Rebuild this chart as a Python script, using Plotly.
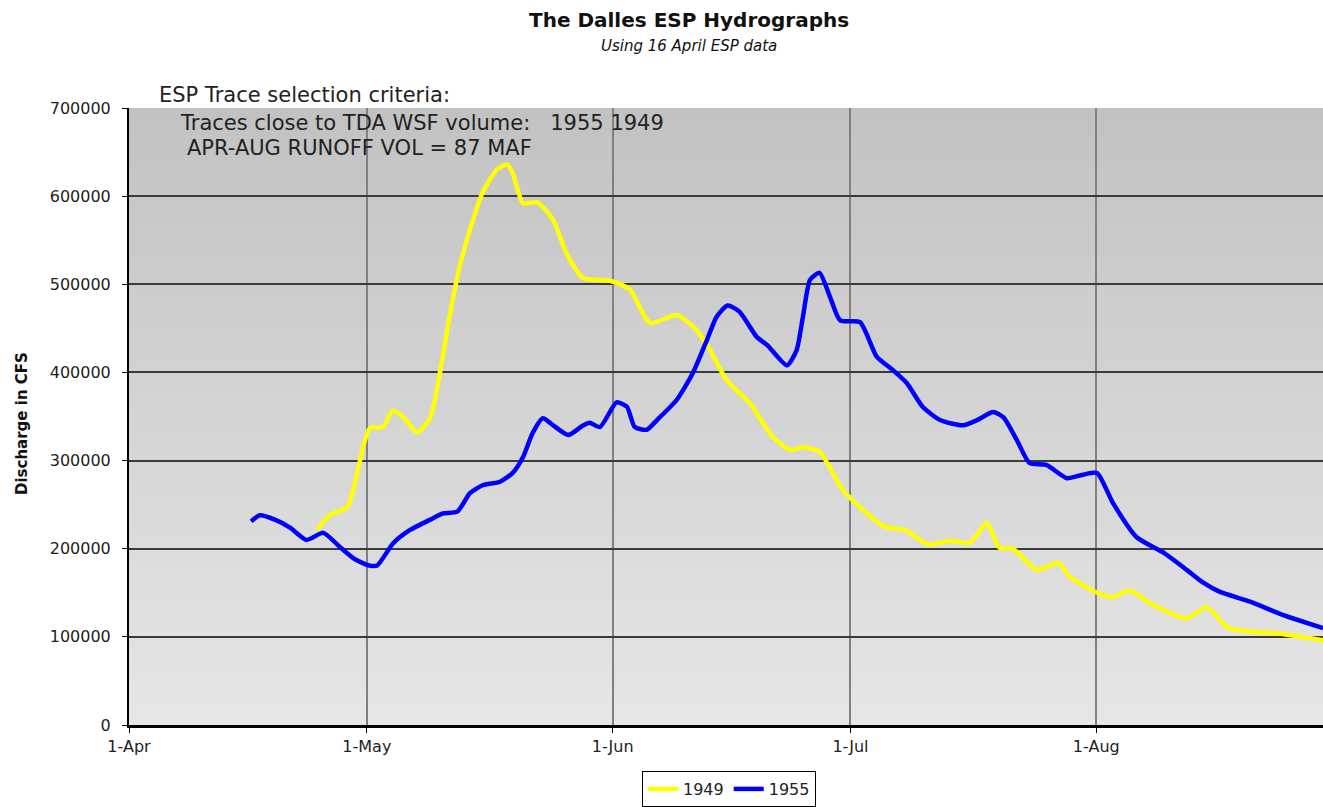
"""The Dalles ESP hydrographs (1949 / 1955 traces)."""

import base64
import struct
import zlib

import pandas as pd
import plotly.graph_objects as go

# days after 1 April, discharge in CFS
DAYS_1955 = [15.4, 16.5, 18.4, 20.3, 22.4, 24.5, 26.6, 28.5, 30.3, 31.3, 33.3, 35.4,
             38.0, 39.6, 41.4, 43.0, 44.6, 46.8, 48.4, 49.7, 50.9, 52.2, 53.5, 55.4,
             57.3, 58.1, 59.4, 61.5, 62.8, 63.8, 65.3, 66.6, 69.1, 71.1, 72.9, 74.1,
             75.5, 77.0, 79.2, 80.5, 83.0, 84.2, 85.0, 85.9, 87.1, 88.4, 89.7, 92.2,
             94.3, 96.3, 98.1, 100.1, 102.3, 105.2, 107.0, 109.0, 110.3, 112.0, 113.6,
             115.7, 118.3, 120.3, 122.1, 124.1, 127.1, 130.4, 133.4, 135.4, 137.6,
             141.4, 145.5, 150.6]
FLOW_1955 = [231000, 238000, 233000, 224000, 210000, 218000, 202000, 188000, 181000,
             181000, 206000, 221000, 233000, 240000, 242000, 263000, 272000, 276000,
             286000, 304000, 331000, 348000, 340000, 329000, 340000, 343000, 338000,
             366000, 361000, 338000, 335000, 346000, 369000, 399000, 437000, 463000,
             476000, 469000, 440000, 431000, 408000, 425000, 463000, 505000, 513000,
             486000, 459000, 457000, 418000, 403000, 388000, 361000, 346000, 340000,
             346000, 355000, 349000, 323000, 297000, 295000, 280000, 284000, 286000,
             252000, 213000, 196000, 176000, 162000, 151000, 140000, 125000, 110000]

DAYS_1949 = [23.7, 25.3, 27.5, 28.8, 29.5, 30.4, 32.0, 33.3, 34.6, 36.4, 38.0, 39.2,
             40.5, 41.7, 43.0, 44.6, 46.4, 47.7, 48.4, 49.7, 51.5, 53.5, 55.2, 57.3,
             60.7, 63.2, 65.7, 69.1, 71.6, 73.3, 75.4, 78.3, 81.2, 83.4, 85.0, 87.1,
             90.0, 93.1, 95.3, 97.9, 100.8, 103.5, 106.1, 108.2, 109.8, 111.5, 114.5,
             117.2, 118.7, 122.1, 124.1, 126.2, 128.8, 133.4, 135.9, 138.5, 141.4,
             144.8, 150.6]
FLOW_1949 = [221000, 238000, 247000, 286000, 315000, 337000, 338000, 357000, 349000,
             332000, 349000, 399000, 467000, 520000, 562000, 604000, 630000, 636000,
             626000, 592000, 593000, 573000, 535000, 507000, 504000, 494000, 456000,
             465000, 448000, 425000, 391000, 365000, 327000, 312000, 315000, 310000,
             267000, 240000, 225000, 221000, 205000, 209000, 207000, 229000, 201000,
             200000, 176000, 184000, 168000, 150000, 145000, 153000, 138000, 121000,
             134000, 111000, 106000, 104000, 96000]

START = pd.Timestamp("2003-04-01")
X_END_DAYS = 150.6

FONT = "DejaVu Sans, Verdana, sans-serif"

FIG_W, FIG_H = 1323, 807
PLOT_L, PLOT_R, PLOT_T, PLOT_B = 129, 1323, 108, 725   # plot area, in pixels


def to_dates(days):
    return START + pd.to_timedelta(days, unit="D")


def px_x(px):
    return (px - PLOT_L) / (PLOT_R - PLOT_L)


def px_y(py):
    return (PLOT_B - py) / (PLOT_B - PLOT_T)


def gradient_png(top=(0xC2, 0xC2, 0xC2), bottom=(0xE6, 0xE6, 0xE6), n=256):
    """1-px wide vertical gradient as a png data uri."""
    raw = b""
    for i in range(n):
        t = i / (n - 1)
        px = bytes(int(round(a + (b - a) * t)) for a, b in zip(top, bottom))
        raw += b"\x00" + px

    def chunk(tag, data):
        c = struct.pack(">I", len(data)) + tag + data
        return c + struct.pack(">I", zlib.crc32(tag + data) & 0xFFFFFFFF)

    png = b"\x89PNG\r\n\x1a\n"
    png += chunk(b"IHDR", struct.pack(">IIBBBBB", 1, n, 8, 2, 0, 0, 0))
    png += chunk(b"IDAT", zlib.compress(raw))
    png += chunk(b"IEND", b"")
    return "data:image/png;base64," + base64.b64encode(png).decode()


fig = go.Figure()

fig.add_trace(go.Scatter(
    x=to_dates(DAYS_1949), y=FLOW_1949,
    mode="lines", name="1949",
    line=dict(color="#FFFF00", width=4.5, shape="spline", smoothing=0.6),
))
fig.add_trace(go.Scatter(
    x=to_dates(DAYS_1955), y=FLOW_1955,
    mode="lines", name="1955",
    line=dict(color="#0000FF", width=4.5, shape="spline", smoothing=0.6),
))

fig.update_layout(
    width=FIG_W,
    height=FIG_H,
    paper_bgcolor="white",
    plot_bgcolor="rgba(0,0,0,0)",
    font=dict(family=FONT, color="#222222", size=14),
    margin=dict(l=PLOT_L, r=FIG_W - PLOT_R, t=PLOT_T, b=FIG_H - PLOT_B),
    showlegend=True,
    legend=dict(
        orientation="h",
        x=px_x(729), xanchor="center",
        yref="container", y=0, yanchor="bottom",
        bgcolor="white",
        bordercolor="black",
        borderwidth=1,
        font=dict(size=16, color="#222222"),
        itemwidth=30,
        tracegroupgap=0,
    ),
    images=[dict(
        source=gradient_png(),
        xref="paper", yref="paper",
        x=0, y=1, sizex=1, sizey=1,
        xanchor="left", yanchor="top",
        sizing="stretch", layer="below",
    )],
    xaxis=dict(
        type="date",
        range=[START, START + pd.Timedelta(days=X_END_DAYS)],
        dtick="M1",
        tick0=START,
        tickformat="%-d-%b",
        showgrid=True,
        gridcolor="#808080",
        gridwidth=1.5,
        showline=True,
        linecolor="black",
        linewidth=3,
        ticks="outside",
        ticklen=5,
        tickcolor="black",
        tickfont=dict(size=16, color="#222222"),
        zeroline=False,
    ),
    yaxis=dict(
        range=[0, 700000],
        dtick=100000,
        tickformat="d",
        showgrid=True,
        gridcolor="#3a3a3a",
        gridwidth=2,
        showline=True,
        linecolor="black",
        linewidth=2,
        ticks="outside",
        ticklen=5,
        tickcolor="black",
        ticklabelstandoff=8,
        tickfont=dict(size=16, color="#222222"),
        zeroline=False,
    ),
)

# y axis title
fig.add_annotation(
    text="<b>Discharge in CFS</b>",
    xref="paper", yref="paper", x=px_x(22), y=px_y(424),
    xanchor="center", yanchor="middle", showarrow=False, textangle=-90,
    font=dict(size=15, color="#111111"),
)

# titles
fig.add_annotation(
    text="<b>The Dalles ESP Hydrographs</b>",
    xref="paper", yref="paper", x=px_x(689), y=px_y(20),
    xanchor="center", yanchor="middle", showarrow=False,
    font=dict(size=20, color="#111111"),
)
fig.add_annotation(
    text="<i>Using 16 April ESP data</i>",
    xref="paper", yref="paper", x=px_x(689), y=px_y(46),
    xanchor="center", yanchor="middle", showarrow=False,
    font=dict(size=15, color="#111111"),
)

# selection criteria text block
notes = [
    ("ESP Trace selection criteria:", 157, 95),
    ("Traces close to TDA WSF volume:   1955 1949", 178, 123),
    ("APR-AUG RUNOFF VOL = 87 MAF", 185, 148),
]
for txt, px, py in notes:
    fig.add_annotation(
        text=txt, xref="paper", yref="paper",
        x=px_x(px), y=px_y(py),
        xanchor="left", yanchor="middle", showarrow=False,
        font=dict(size=21, color="#222222"),
    )

# drop the default 8px page margin so the figure fills the window exactly
fig.write_html(
    "out.html",
    config={"displayModeBar": False},
    post_script="document.body.style.margin = '0';",
)
